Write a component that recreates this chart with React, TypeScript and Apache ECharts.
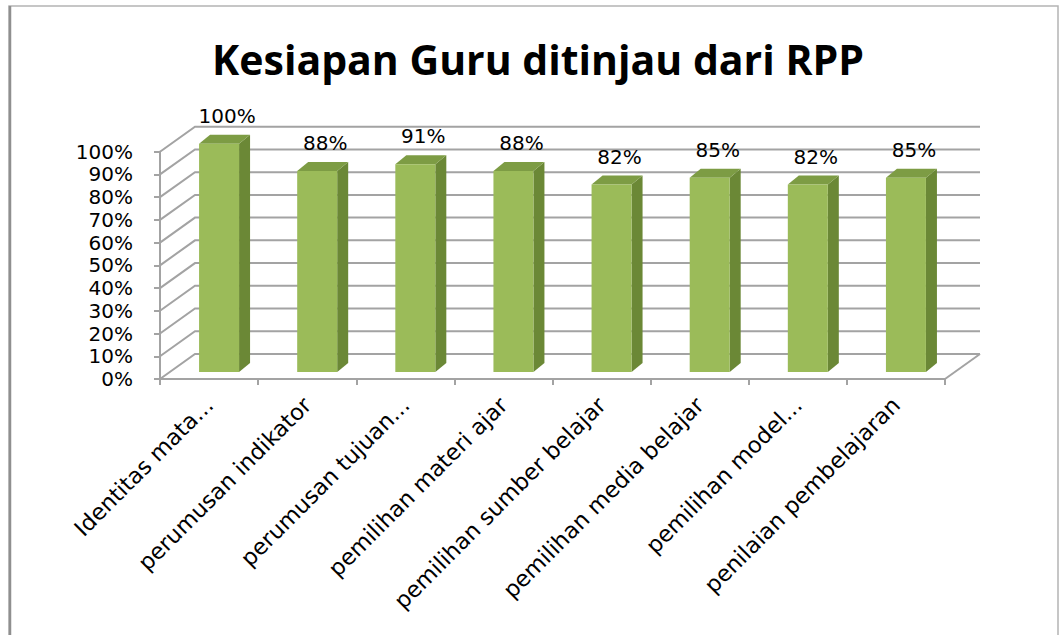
import React, { useEffect, useRef } from "react";
import * as echarts from "echarts";

const titleText = "Kesiapan Guru ditinjau dari RPP";
const categories = [
  "Identitas mata...",
  "perumusan indikator",
  "perumusan tujuan...",
  "pemilihan materi ajar",
  "pemilihan sumber belajar",
  "pemilihan media belajar",
  "pemilihan model...",
  "penilaian pembelajaran",
];
const values = [100, 88, 91, 88, 82, 85, 82, 85];
const yTicks = [0, 10, 20, 30, 40, 50, 60, 70, 80, 90, 100];

const GRID = "#a3a3a3";
const FONT = "DejaVu Sans";
const DX = 35;
const DY = -25;

export default function App() {
  const ref = useRef<HTMLDivElement>(null);
  useEffect(() => {
    if (!ref.current) return;
    const chart = echarts.init(ref.current, null, { renderer: "svg" });
    const option: any = {
      animation: false,
      backgroundColor: "#ffffff",
      graphic: [
        {
          type: "rect",
          shape: { x: 9, y: 6, width: 1049, height: 640 },
          style: { fill: "none", stroke: "#b4b4b4", lineWidth: 1.5 },
          silent: true,
        },
        {
          type: "line",
          shape: { x1: 10, y1: 6, x2: 10, y2: 640 },
          style: { stroke: "#8f8f8f", lineWidth: 2.5 },
          silent: true,
        },
        {
          type: "text",
          x: 538,
          y: 59,
          style: {
            text: titleText,
            fontFamily: "Open Sans",
            fontWeight: "bold",
            fontSize: 41,
            fill: "#000",
            align: "center",
            verticalAlign: "middle",
          },
        },
      ],
      grid: { left: 160, right: 115, top: 151.7, bottom: 256, containLabel: false },
      xAxis: {
        type: "category",
        data: categories,
        boundaryGap: true,
        axisLine: { show: true, lineStyle: { color: GRID, width: 2 } },
        axisTick: { show: true, length: 6, lineStyle: { color: GRID, width: 2 } },
        axisLabel: {
          rotate: 45,
          interval: 0,
          margin: 22,
          padding: [12, 0, 0, 0],
          color: "#000",
          fontFamily: FONT,
          fontSize: 22.5,
        },
        splitLine: { show: false },
      },
      yAxis: {
        type: "value",
        min: 0,
        max: 100,
        interval: 10,
        axisLine: { show: true, lineStyle: { color: GRID, width: 2 } },
        axisTick: { show: true, length: 6, lineStyle: { color: GRID, width: 2 } },
        axisLabel: {
          formatter: (v: number) => v + "%",
          margin: 27,
          color: "#000",
          fontFamily: FONT,
          fontSize: 20,
        },
        splitLine: { show: false },
      },
      series: [
        {
          type: "custom",
          silent: true,
          clip: false,
          z: 1,
          data: yTicks.map((t) => [0, t]),
          renderItem: (params: any, api: any) => {
            const t = api.value(1);
            const c = api.coord([0, t]);
            const bw = api.size([1, 0])[0];
            const x0 = c[0] - bw / 2;
            const xEnd = x0 + categories.length * bw;
            const y = c[1];
            const children: any[] = [
              {
                type: "polyline",
                shape: {
                  points: [
                    [x0, y],
                    [x0 + DX, y + DY],
                    [xEnd + DX, y + DY],
                  ],
                },
                style: { stroke: GRID, lineWidth: 2, fill: "none" },
              },
            ];
            if (t === 0) {
              children.push({
                type: "line",
                shape: { x1: xEnd, y1: y, x2: xEnd + DX, y2: y + DY },
                style: { stroke: GRID, lineWidth: 2 },
              });
            }
            return { type: "group", children };
          },
        },
        {
          type: "custom",
          silent: true,
          clip: false,
          z: 3,
          data: values.map((v, i) => [i, v]),
          renderItem: (params: any, api: any) => {
            const i = api.value(0);
            const v = api.value(1);
            const top0 = api.coord([i, v]);
            const base = api.coord([i, 0]);
            const cx = base[0];
            const left = cx - 10;
            const right = cx + 30;
            const bottom = base[1] - 7;
            const top = top0[1] - 8;
            const sdx = 11;
            const sdy = -9;
            return {
              type: "group",
              children: [
                {
                  type: "polygon",
                  shape: {
                    points: [
                      [right, top],
                      [right + sdx, top + sdy],
                      [right + sdx, bottom + sdy],
                      [right, bottom],
                    ],
                  },
                  style: { fill: "#6b8836" },
                },
                {
                  type: "polygon",
                  shape: {
                    points: [
                      [left, top],
                      [right, top],
                      [right + sdx, top + sdy],
                      [left + sdx, top + sdy],
                    ],
                  },
                  style: { fill: "#7d9c44" },
                },
                {
                  type: "rect",
                  shape: { x: left, y: top, width: right - left, height: bottom - top },
                  style: { fill: "#9bbb59" },
                },
                {
                  type: "text",
                  x: cx + 18,
                  y: top - 28,
                  style: {
                    text: v + "%",
                    fill: "#000",
                    fontFamily: FONT,
                    fontSize: 20,
                    align: "center",
                    verticalAlign: "middle",
                  },
                },
              ],
            };
          },
        },
      ],
    };
    chart.setOption(option);
    return () => chart.dispose();
  }, []);
  return (
    <div
      ref={ref}
      style={{ position: "absolute", left: 0, top: 0, width: 1060, height: 635 }}
    />
  );
}
